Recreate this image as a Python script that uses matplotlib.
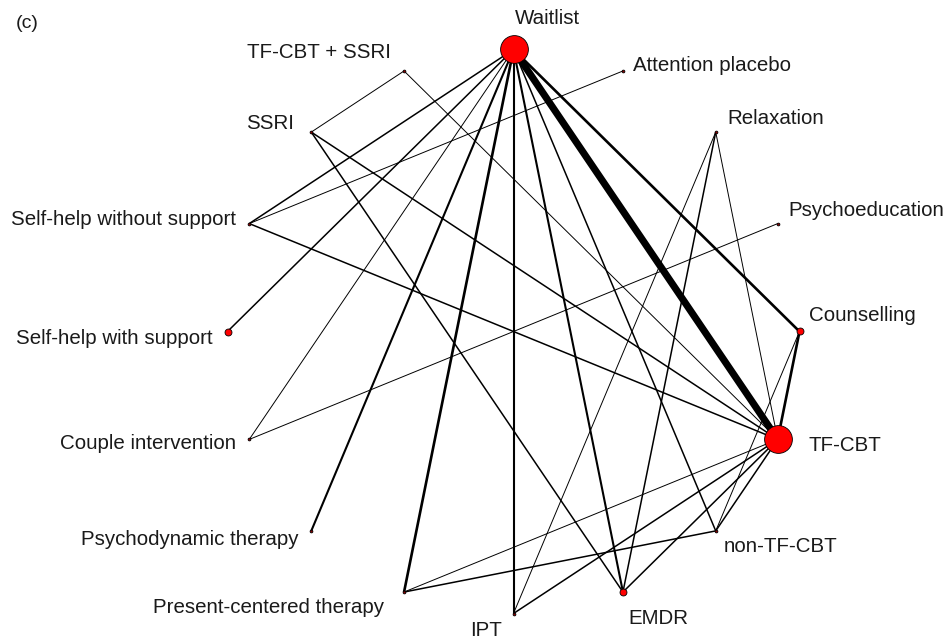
import numpy as np
import matplotlib.pyplot as plt

plt.rcParams['font.family'] = ['Liberation Sans', 'DejaVu Sans']

# Treatments, clockwise round the circle from the top
treatments = ["Waitlist", "Attention placebo", "Relaxation", "Psychoeducation",
              "Counselling", "TF-CBT", "non-TF-CBT", "EMDR", "IPT",
              "Present-centered therapy", "Psychodynamic therapy",
              "Couple intervention", "Self-help with support",
              "Self-help without support", "SSRI", "TF-CBT + SSRI"]

# node size
node_size = [20, 2, 2, 2, 5, 20, 2, 5, 2, 2, 2, 2, 5, 2, 2, 2]

edge_from = ["Waitlist", "Waitlist", "Waitlist", "Waitlist", "Waitlist",
             "Waitlist", "Waitlist", "Waitlist", "Waitlist", "Waitlist",
             "Counselling", "TF-CBT + SSRI", "TF-CBT + SSRI",
             "SSRI", "SSRI", "Self-help without support",
             "Self-help without support", "Couple intervention",
             "Relaxation", "Relaxation", "Relaxation",
             "Present-centered therapy", "Present-centered therapy",
             "IPT", "EMDR", "non-TF-CBT", "Counselling"]
edge_to = ["TF-CBT", "Counselling", "Present-centered therapy",
           "Psychodynamic therapy", "IPT", "EMDR", "non-TF-CBT",
           "Self-help with support", "Self-help without support",
           "Couple intervention", "TF-CBT",
           "SSRI", "TF-CBT", "TF-CBT", "EMDR", "Attention placebo",
           "TF-CBT", "Psychoeducation", "IPT", "EMDR", "TF-CBT",
           "TF-CBT", "non-TF-CBT", "TF-CBT", "TF-CBT", "TF-CBT",
           "non-TF-CBT"]
n_studies = [12, 4, 4, 3, 3, 3, 2, 2, 2, 1, 4, 1, 1, 2, 2, 1, 2, 1,
             1, 2, 1, 1, 2, 2, 2, 2, 1]

# label placement: offset from node in pixels, alignment
label_pos = {
    "Waitlist": (1, 31, 'left'),
    "Attention placebo": (10, 5, 'left'),
    "Relaxation": (12, 14, 'left'),
    "Psychoeducation": (11, 13, 'left'),
    "Counselling": (9, 16, 'left'),
    "TF-CBT": (31, -6, 'left'),
    "non-TF-CBT": (8, -16, 'left'),
    "EMDR": (5, -26, 'left'),
    "IPT": (-11, -17, 'right'),
    "Present-centered therapy": (-20, -15, 'right'),
    "Psychodynamic therapy": (-13, -9, 'right'),
    "Couple intervention": (-13, -4, 'right'),
    "Self-help with support": (-15, -7, 'right'),
    "Self-help without support": (-13, 4, 'right'),
    "SSRI": (-17, 9, 'right'),
    "TF-CBT + SSRI": (-13, 18, 'right'),
}

angles = np.deg2rad(90 - 22.5 * np.arange(len(treatments)))
pos = {t: (np.cos(a), np.sin(a)) for t, a in zip(treatments, angles)}

fig = plt.figure(figsize=(9.49, 6.39), dpi=100)
ax = fig.add_axes([0, 0, 1, 1])
# circle centre and radii in pixels
cx, cy, rx, ry = 513.5, 331.5, 286.0, 282.0
ax.set_xlim(-cx / rx, (949 - cx) / rx)
ax.set_ylim(-(639 - cy) / ry, cy / ry)
ax.axis('off')

for a, b, n in zip(edge_from, edge_to, n_studies):
    xa, ya = pos[a]
    xb, yb = pos[b]
    ax.plot([xa, xb], [ya, yb], color='black', lw=0.7 + 0.4 * (n - 1),
            solid_capstyle='butt', zorder=1)

for t, s in zip(treatments, node_size):
    x, y = pos[t]
    fc = 'red' if s > 3 else '#8b0000'
    ax.plot(x, y, 'o', ms=s, mfc=fc, mec='black', mew=0.6, zorder=3)
    dx, dy, ha = label_pos[t]
    ax.annotate(t, (x, y), xytext=(dx, dy), textcoords='offset pixels',
                ha=ha, va='center', fontsize=14.8, color='#1a1a1a')

fig.text(16 / 949, 1 - 23 / 639, "(c)", ha='left', va='center',
         fontsize=14, color='#1a1a1a')

fig.savefig("out.png", dpi=100)
